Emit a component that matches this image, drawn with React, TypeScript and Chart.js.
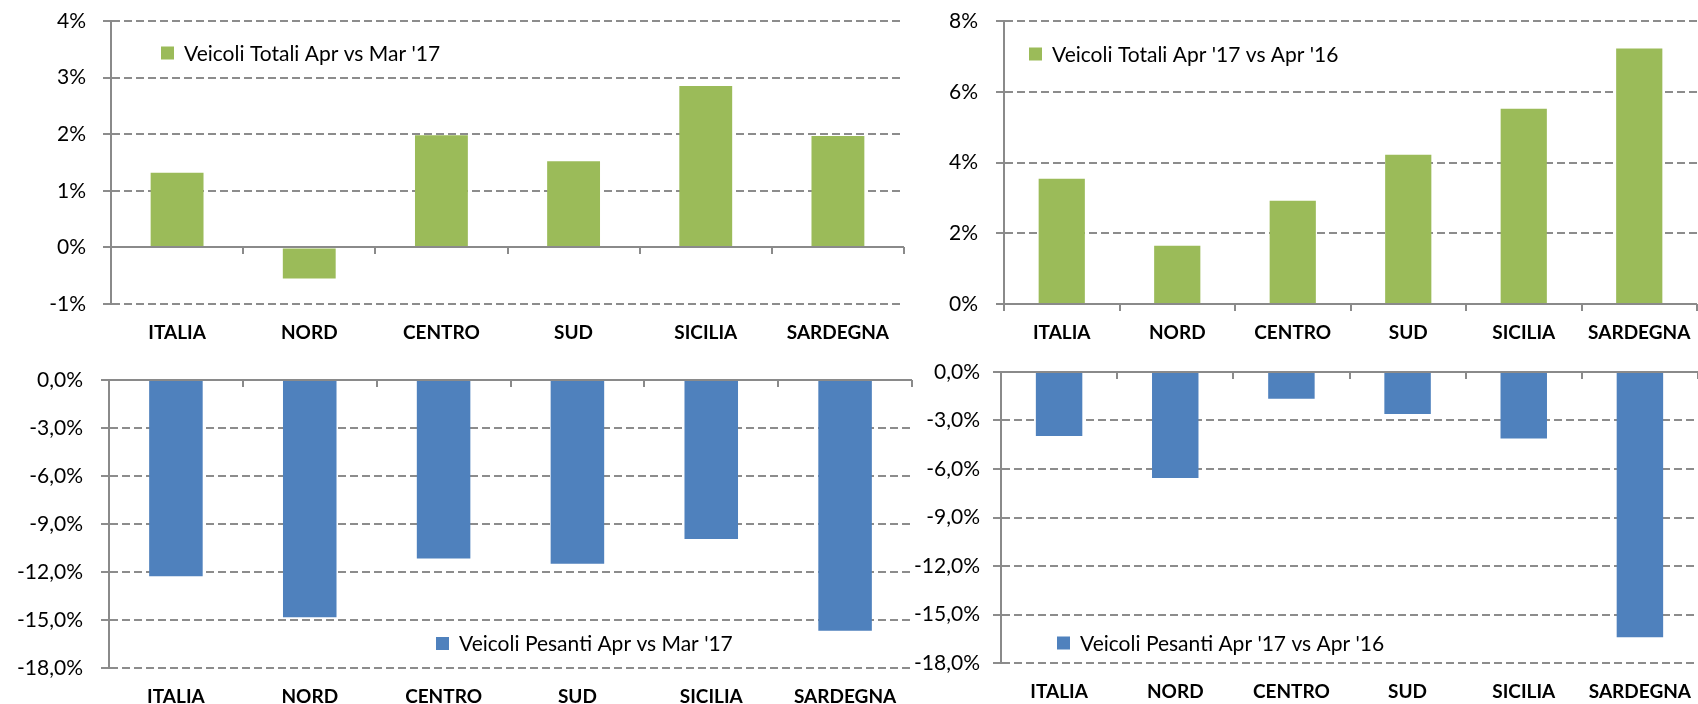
import React, { useEffect, useRef } from "react";
import { Chart, registerables } from "chart.js";

Chart.register(...registerables);

const categories = ["ITALIA", "NORD", "CENTRO", "SUD", "SICILIA", "SARDEGNA"];

const totaliMeseLabel = "Veicoli Totali Apr vs Mar '17";
const totaliMeseValues = [1.32, -0.55, 1.98, 1.52, 2.85, 1.97];
const totaliMeseTicks = [-1, 0, 1, 2, 3, 4];

const totaliAnnoLabel = "Veicoli Totali Apr '17 vs Apr '16";
const totaliAnnoValues = [3.54, 1.65, 2.92, 4.22, 5.52, 7.22];
const totaliAnnoTicks = [0, 2, 4, 6, 8];

const pesantiMeseLabel = "Veicoli Pesanti Apr vs Mar '17";
const pesantiMeseValues = [-12.27, -14.83, -11.15, -11.48, -9.94, -15.67];
const pesantiMeseTicks = [-18, -15, -12, -9, -6, -3, 0];

const pesantiAnnoLabel = "Veicoli Pesanti Apr '17 vs Apr '16";
const pesantiAnnoValues = [-3.96, -6.56, -1.65, -2.6, -4.12, -16.4];
const pesantiAnnoTicks = [-18, -15, -12, -9, -6, -3, 0];

const GREEN = "#9BBB59";
const BLUE = "#4F81BD";
const AXIS = "#8a8a8a";
const GRID = "#8c8c8c";
const FONT = "Lato, 'Open Sans', sans-serif";

const fmtInt = (v: number) => `${v}%`;
const fmtDec = (v: number) => `${v.toFixed(1).replace(".", ",")}%`;

type PanelProps = {
  box: { x: number; y: number; w: number; h: number };
  yWidth: number;
  padRight: number;
  padTop: number;
  xHeight: number;
  labelPad: number;
  legendDx: number;
  legendDy: number;
  label: string;
  values: number[];
  ticks: number[];
  color: string;
  fmt: (v: number) => string;
};

const overlayPlugin = {
  id: "overlay",
  afterDatasetsDraw(chart: any, _args: any, opts: any) {
    const { ctx, chartArea } = chart;
    const x = chart.scales.x;
    const y = chart.scales.y;
    const y0 = Math.round(y.getPixelForValue(0));
    ctx.save();
    ctx.strokeStyle = AXIS;
    ctx.lineWidth = 2;
    ctx.setLineDash([]);
    ctx.beginPath();
    ctx.moveTo(chartArea.left - 8, y0);
    ctx.lineTo(chartArea.right, y0);
    ctx.stroke();
    for (let i = 0; i <= categories.length; i++) {
      const bx = Math.round(x.getPixelForValue(i - 0.5));
      ctx.beginPath();
      ctx.moveTo(bx, y0);
      ctx.lineTo(bx, y0 + 7);
      ctx.stroke();
    }
    // legend
    const lx = chartArea.left + opts.dx;
    const ly = chartArea.top + opts.dy;
    ctx.fillStyle = opts.color;
    ctx.fillRect(lx, ly - 6.5, 13, 13);
    ctx.fillStyle = "#000";
    ctx.font = `21px ${FONT}`;
    ctx.textBaseline = "middle";
    ctx.textAlign = "left";
    ctx.fillText(opts.text, lx + 23, ly + 1);
    ctx.restore();
  },
};

function Panel(p: PanelProps) {
  const ref = useRef<HTMLCanvasElement | null>(null);
  useEffect(() => {
    if (!ref.current) return;
    const chart = new Chart(ref.current, {
      type: "bar",
      data: {
        labels: categories,
        datasets: [
          {
            label: p.label,
            data: p.values,
            backgroundColor: p.color,
            borderWidth: 0,
            barPercentage: 0.4,
            categoryPercentage: 1,
          },
        ],
      },
      options: {
        animation: false,
        responsive: false,
        devicePixelRatio: 1,
        layout: { padding: { top: p.padTop, right: p.padRight, left: 0, bottom: 0 } },
        plugins: {
          legend: { display: false },
          tooltip: { enabled: false },
          overlay: { dx: p.legendDx, dy: p.legendDy, color: p.color, text: p.label },
        } as any,
        scales: {
          x: {
            grid: { display: false },
            border: { display: false },
            ticks: {
              color: "#000",
              font: { family: FONT, size: 19, weight: "bold" },
              padding: 9,
              maxRotation: 0,
              autoSkip: false,
            },
            afterFit: (s: any) => {
              s.height = p.xHeight;
              s.paddingLeft = 0;
              s.paddingRight = 0;
            },
          },
          y: {
            min: p.ticks[0],
            max: p.ticks[p.ticks.length - 1],
            afterBuildTicks: (s: any) => {
              s.ticks = p.ticks.map((v) => ({ value: v }));
            },
            afterFit: (s: any) => {
              s.width = p.yWidth;
              s.paddingTop = 0;
              s.paddingBottom = 0;
            },
            grid: {
              color: GRID,
              lineWidth: 2,
              tickLength: 8,
              tickColor: GRID,
              tickWidth: 2,
            },
            border: { display: true, color: AXIS, width: 2, dash: [8, 4] },
            ticks: {
              color: "#000",
              font: { family: FONT, size: 21 },
              padding: p.labelPad,
              callback: (v: any) => p.fmt(Number(v)),
            },
          },
        },
      },
      plugins: [overlayPlugin],
    });
    return () => chart.destroy();
  }, []);
  return (
    <canvas
      ref={ref}
      width={p.box.w}
      height={p.box.h}
      style={{
        position: "absolute",
        left: p.box.x,
        top: p.box.y,
        width: p.box.w,
        height: p.box.h,
        display: "block",
      }}
    />
  );
}

export default function App() {
  return (
    <div
      style={{
        position: "absolute",
        left: 0,
        top: 0,
        width: 1698,
        height: 704,
        background: "#fff",
        overflow: "hidden",
      }}
    >
      <Panel
        box={{ x: 0, y: 0, w: 910, h: 350 }}
        yWidth={111}
        padRight={6}
        padTop={21}
        xHeight={46}
        labelPad={17}
        legendDx={50}
        legendDy={32}
        label={totaliMeseLabel}
        values={totaliMeseValues}
        ticks={totaliMeseTicks}
        color={GREEN}
        fmt={fmtInt}
      />
      <Panel
        box={{ x: 910, y: 0, w: 788, h: 350 }}
        yWidth={94}
        padRight={1}
        padTop={21}
        xHeight={46}
        labelPad={18}
        legendDx={25}
        legendDy={33}
        label={totaliAnnoLabel}
        values={totaliAnnoValues}
        ticks={totaliAnnoTicks}
        color={GREEN}
        fmt={fmtInt}
      />
      <Panel
        box={{ x: 0, y: 350, w: 914, h: 354 }}
        yWidth={109}
        padRight={2}
        padTop={30}
        xHeight={36}
        labelPad={18}
        legendDx={327}
        legendDy={263.5}
        label={pesantiMeseLabel}
        values={pesantiMeseValues}
        ticks={pesantiMeseTicks}
        color={BLUE}
        fmt={fmtDec}
      />
      <Panel
        box={{ x: 910, y: 350, w: 788, h: 354 }}
        yWidth={91}
        padRight={0}
        padTop={22}
        xHeight={41}
        labelPad={13}
        legendDx={56}
        legendDy={271}
        label={pesantiAnnoLabel}
        values={pesantiAnnoValues}
        ticks={pesantiAnnoTicks}
        color={BLUE}
        fmt={fmtDec}
      />
    </div>
  );
}
